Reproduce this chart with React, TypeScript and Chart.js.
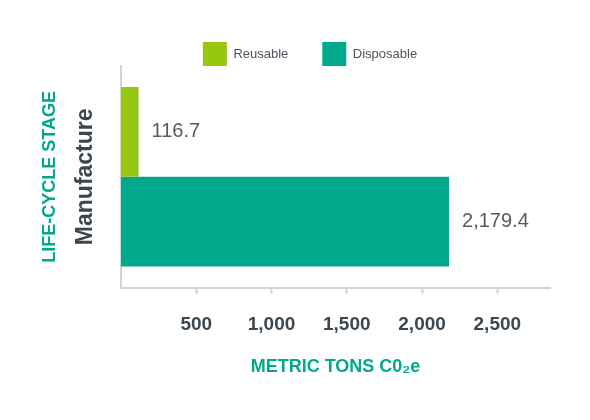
import React, { useEffect, useRef } from "react";
import { Chart, registerables } from "chart.js";

Chart.register(...registerables);

const categories = ["Manufacture"];
const reusable = [116.7];
const disposable = [2179.4];
const xTicks = [500, 1000, 1500, 2000, 2500];

const FONT = "'Liberation Sans', Arial, Helvetica, sans-serif";
const TEAL = "#00a98c";
const LIME = "#97c811";
const DARK = "#3a4650";

const fmt = (v: number) =>
  v.toLocaleString("en-US", { minimumFractionDigits: 1, maximumFractionDigits: 1 });

// numbers to the right of each bar
const valueLabels = {
  id: "valueLabels",
  afterDatasetsDraw(chart: any) {
    const { ctx } = chart;
    ctx.save();
    ctx.font = `20px ${FONT}`;
    ctx.fillStyle = "#555b61";
    ctx.textAlign = "left";
    ctx.textBaseline = "middle";
    chart.data.datasets.forEach((ds: any, i: number) => {
      chart.getDatasetMeta(i).data.forEach((bar: any, j: number) => {
        ctx.fillText(fmt(ds.data[j]), bar.x + 13, bar.y);
      });
    });
    ctx.restore();
  },
};

// rotated category name beside the y axis
const categoryLabels = {
  id: "categoryLabels",
  afterDraw(chart: any) {
    const { ctx } = chart;
    const yScale = chart.scales.y;
    categories.forEach((c, i) => {
      ctx.save();
      ctx.translate(86, yScale.getPixelForValue(i));
      ctx.rotate(-Math.PI / 2);
      ctx.font = `bold 23px ${FONT}`;
      ctx.fillStyle = DARK;
      ctx.textAlign = "center";
      ctx.textBaseline = "middle";
      ctx.fillText(c, 0, 0);
      ctx.restore();
    });
  },
};

// nudge the legend a bit to the right
const legendShift = {
  id: "legendShift",
  afterLayout(chart: any) {
    if (chart.legend) {
      chart.legend.left += 35;
      chart.legend.right += 35;
    }
  },
};

const App: React.FC = () => {
  const canvasRef = useRef<HTMLCanvasElement | null>(null);
  const chartRef = useRef<Chart | null>(null);

  useEffect(() => {
    if (!canvasRef.current) return;
    if (chartRef.current) chartRef.current.destroy();

    chartRef.current = new Chart(canvasRef.current, {
      type: "bar",
      data: {
        labels: categories,
        datasets: [
          {
            label: "Reusable",
            data: reusable,
            backgroundColor: LIME,
            categoryPercentage: 0.81,
            barPercentage: 1,
          },
          {
            label: "Disposable",
            data: disposable,
            backgroundColor: TEAL,
            categoryPercentage: 0.81,
            barPercentage: 1,
          },
        ],
      },
      options: {
        indexAxis: "y",
        animation: false,
        responsive: true,
        maintainAspectRatio: false,
        layout: { padding: { top: 8, right: 40, left: 0, bottom: 0 } },
        plugins: {
          tooltip: { enabled: false },
          legend: {
            position: "top",
            maxHeight: 58,
            labels: {
              boxWidth: 24,
              boxHeight: 24,
              padding: 34,
              color: "#4b555e",
              font: { family: FONT, size: 13 },
            },
          },
        },
        scales: {
          x: {
            min: 0,
            max: 2850,
            afterBuildTicks: (axis: any) => {
              axis.ticks = xTicks.map((v) => ({ value: v }));
            },
            grid: {
              drawOnChartArea: false,
              drawTicks: true,
              tickLength: 6,
              tickColor: "#cfcfcf",
              tickWidth: 2,
            },
            border: { color: "#d3d3d3", width: 2 },
            ticks: {
              padding: 20,
              color: "#3b4751",
              font: { family: FONT, size: 19, weight: "bold" },
              callback: (v: any) => Number(v).toLocaleString("en-US"),
            },
            title: {
              display: true,
              text: "METRIC TONS C0₂e",
              color: TEAL,
              font: { family: FONT, size: 18, weight: "bold" },
              padding: { top: 0, bottom: 42 },
            },
          },
          y: {
            afterFit: (s: any) => {
              s.width = 121;
            },
            ticks: { display: false },
            grid: { display: false },
            border: { color: "#d3d3d3", width: 2 },
            title: {
              display: true,
              text: "LIFE-CYCLE STAGE",
              color: TEAL,
              font: { family: FONT, size: 18, weight: "bold" },
              padding: { top: 39, bottom: 0 },
            },
          },
        },
      },
      plugins: [valueLabels, categoryLabels, legendShift],
    });

    return () => {
      if (chartRef.current) {
        chartRef.current.destroy();
        chartRef.current = null;
      }
    };
  }, []);

  return (
    <div style={{ position: "relative", width: 590, height: 420, margin: -8 }}>
      <canvas ref={canvasRef}></canvas>
    </div>
  );
};

export default App;
